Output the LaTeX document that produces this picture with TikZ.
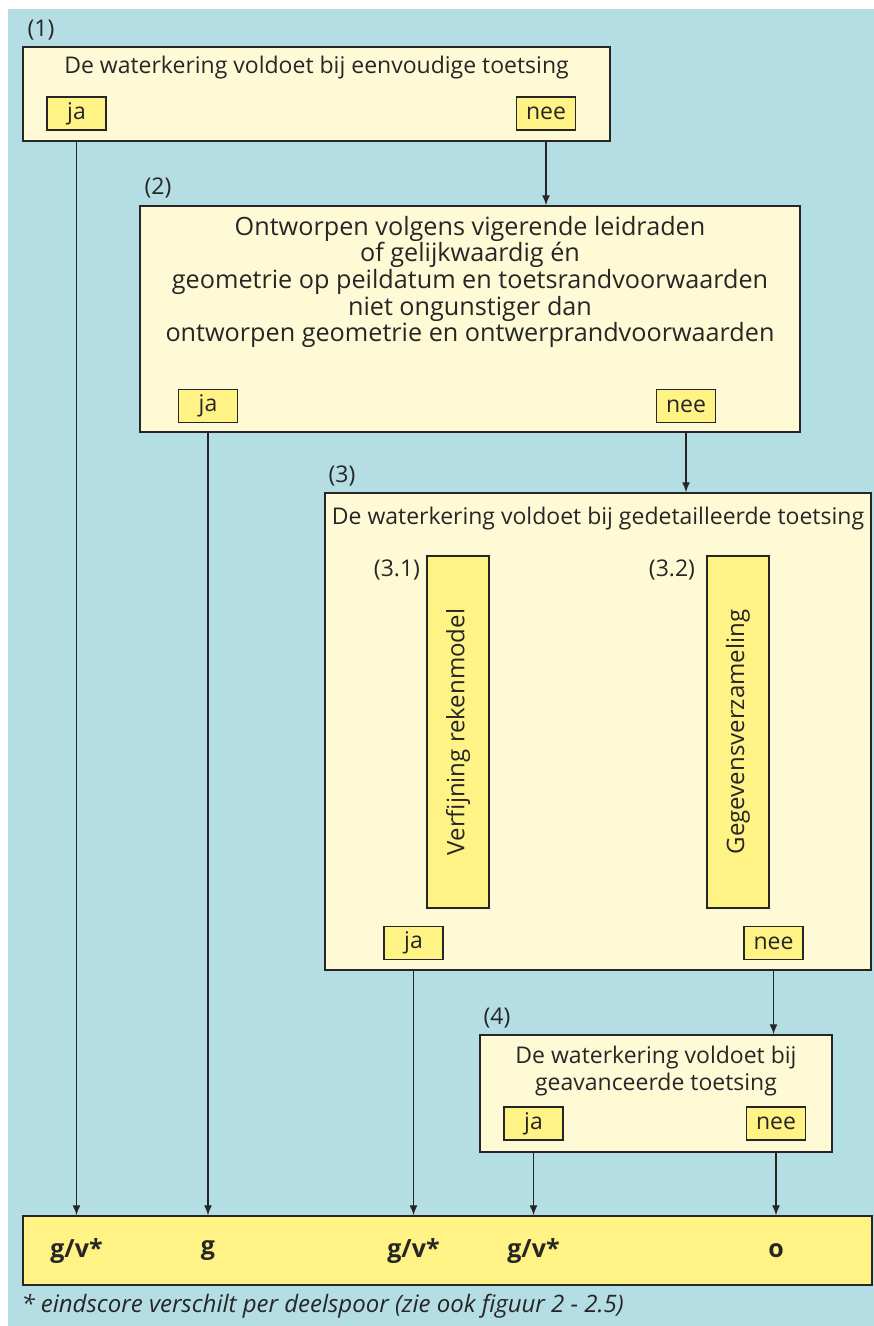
\documentclass[tikz,border=0pt]{standalone}
\usepackage{fontspec}
\setmainfont{Open Sans}
\usetikzlibrary{arrows.meta,positioning}
\definecolor{waterblue}{RGB}{180,221,228}
\definecolor{paleyellow}{RGB}{255,250,214}
\definecolor{answeryellow}{RGB}{255,243,133}
\definecolor{linegray}{RGB}{38,38,38}

\begin{document}
\begin{tikzpicture}[
  x = 1pt, y = -1pt,
  > = {Latex[length=10pt,width=8pt]},
  every node/.style = {font=\fontsize{23}{27}\selectfont,text=linegray},
  question/.style = {draw=linegray,line width=1.5pt,fill=paleyellow,inner sep=0pt},
  answer/.style = {draw=linegray,line width=1.5pt,fill=answeryellow,inner sep=0pt,minimum width=59,minimum height=33},
  substep/.style = {draw=linegray,line width=1.5pt,fill=answeryellow,inner sep=0pt,minimum width=62,minimum height=352},
  outcome/.style = {font=\fontsize{25}{27}\selectfont\bfseries},
  flow/.style = {->,draw=linegray,line width=1.4pt}
  ]
  \useasboundingbox (0,0) rectangle (874,1326);
  \fill[waterblue] (8,9) rectangle (874,1326);

  % (1) eenvoudige toetsing
  \node[question,minimum width=587,minimum height=94] (@1) at (316.5,94) {};
  \node at (41,30) {(1)};
  \node at (316.5,68) {De waterkering voldoet bij eenvoudige toetsing};
  \node[answer] (@ja1) at (76.5,113.5) {ja};
  \node[answer] (@nee1) at (546,113.5) {nee};

  % (2) ontwerp
  \node[question,minimum width=660,minimum height=226] (@2) at (470,319) {};
  \node at (158,188) {(2)};
  \node[align=center,font=\fontsize{25.2}{26.7}\selectfont] at (470,282)
    {Ontworpen volgens vigerende leidraden\\of gelijkwaardig én\\geometrie op peildatum en toetsrandvoorwaarden\\niet ongunstiger dan\\ontworpen geometrie en ontwerprandvoorwaarden};
  \node[answer] (@ja2) at (208,406) {ja};
  \node[answer] (@nee2) at (686,406) {nee};

  % (3) gedetailleerde toetsing
  \node[question,minimum width=546,minimum height=477] (@3) at (598,731.5) {};
  \node at (342,476) {(3)};
  \node at (598,519) {De waterkering voldoet bij gedetailleerde toetsing};
  \node[substep] (@31) at (458,732) {};
  \node[substep] (@32) at (738,732) {};
  \node[rotate=90,font=\fontsize{24}{27}\selectfont] at (@31) {Verfijning rekenmodel};
  \node[rotate=90,font=\fontsize{24}{27}\selectfont] at (@32) {Gegevensverzameling};
  \node at (397,570) {(3.1)};
  \node at (672,570) {(3.2)};
  \node[answer] (@ja3) at (413.5,943) {ja};
  \node[answer] (@nee3) at (773.5,943) {nee};

  % (4) geavanceerde toetsing
  \node[question,minimum width=352,minimum height=117] (@4) at (656,1093.5) {};
  \node at (497,1018) {(4)};
  \node[align=center] at (656,1071) {De waterkering voldoet bij\\geavanceerde toetsing};
  \node[answer] (@ja4) at (533.5,1123.5) {ja};
  \node[answer] (@nee4) at (776,1123.5) {nee};

  % eindscore
  \node[draw=linegray,line width=1.5pt,fill=answeryellow,minimum width=849,minimum height=69] (@end) at (447.5,1250.5) {};
  \node[outcome] at (@ja1 |- @end) {g/v*};
  \node[outcome] at (@ja2 |- @end) {g};
  \node[outcome] at (@ja3 |- @end) {g/v*};
  \node[outcome] at (@ja4 |- @end) {g/v*};
  \node[outcome] at (@nee4 |- @end) {o};
  \node[anchor=west,font=\fontsize{24}{27}\selectfont\itshape] at (18,1306)
    {* eindscore verschilt per deelspoor (zie ook figuur 2 - 2.5)};

  \draw[flow] (@ja1 |- @1.south) -- (@ja1 |- @end.north);
  \draw[flow] (@nee1 |- @1.south) -- (@nee1 |- @2.north);
  \draw[flow] (@ja2 |- @2.south) -- (@ja2 |- @end.north);
  \draw[flow] (@nee2 |- @2.south) -- (@nee2 |- @3.north);
  \draw[flow] (@ja3 |- @3.south) -- (@ja3 |- @end.north);
  \draw[flow] (@nee3 |- @3.south) -- (@nee3 |- @4.north);
  \draw[flow] (@ja4 |- @4.south) -- (@ja4 |- @end.north);
  \draw[flow] (@nee4 |- @4.south) -- (@nee4 |- @end.north);
\end{tikzpicture}
\end{document}
